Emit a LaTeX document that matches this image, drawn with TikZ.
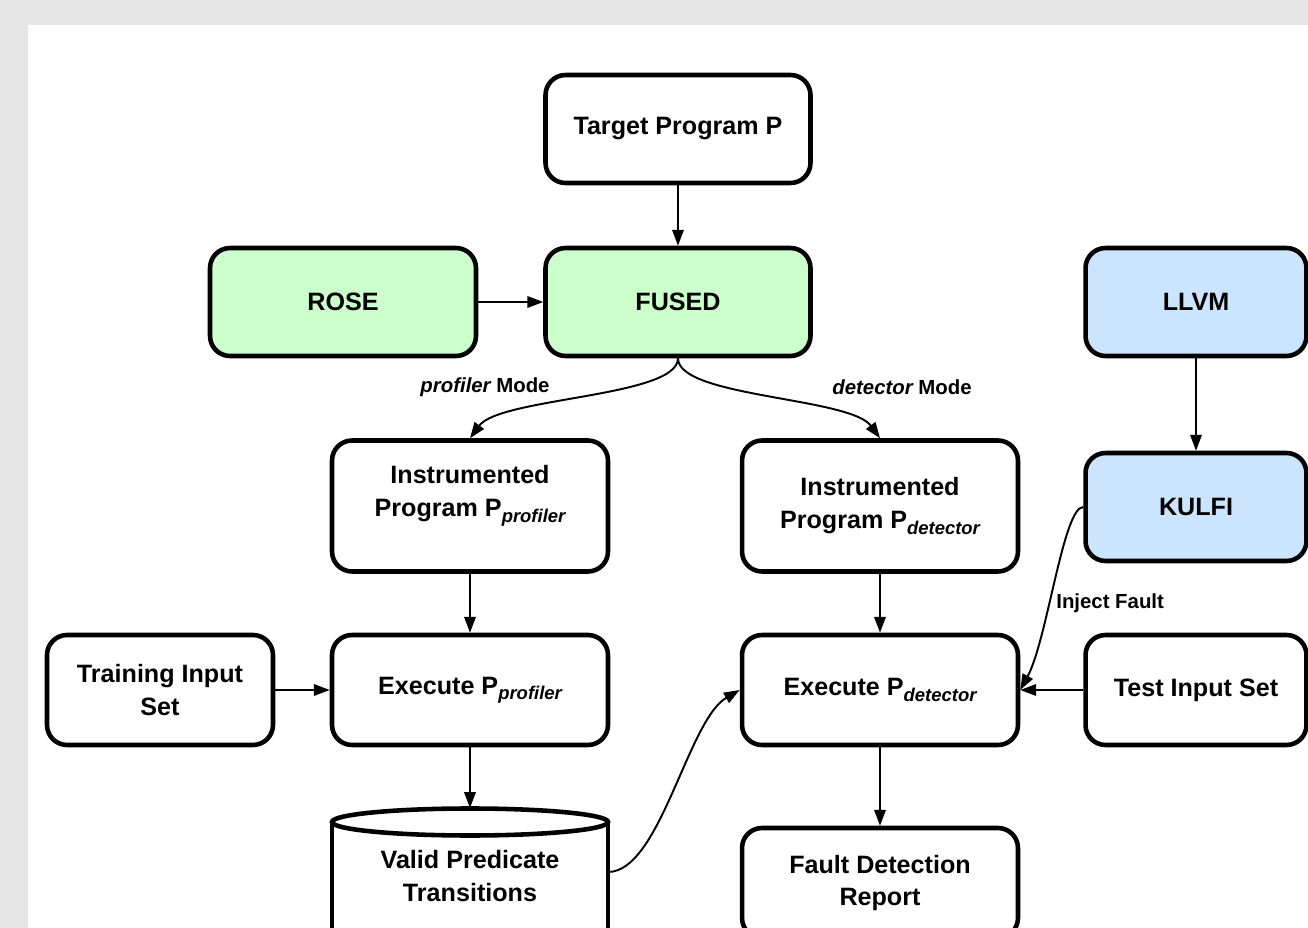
\documentclass[tikz,border=0pt]{standalone}
\usepackage{fontspec}
\setmainfont{Liberation Sans}
\usetikzlibrary{arrows.meta}
\definecolor{rosegreen}{HTML}{CCFFCC}
\definecolor{llvmblue}{HTML}{CCE5FF}
\definecolor{pagegrey}{HTML}{E6E6E6}
\newcommand{\modesub}[1]{\raisebox{-0.4ex}{\fontsize{10.5}{12}\selectfont\bfseries\itshape #1}}

\begin{document}
\begin{tikzpicture}[x=0.02cm,y=-0.02cm,
        box/.style={draw=black,line width=2.6pt,rounded corners=0.4cm,fill=white,align=center,inner sep=0pt,font=\bfseries\fontsize{14.3}{18.7}\selectfont},
        flow/.style={line width=1.1pt,-{Triangle[length=9pt,width=6.5pt]}},
        lbl/.style={font=\bfseries\fontsize{11.6}{13}\selectfont,inner sep=0pt}]
        %BACKGROUND
        \useasboundingbox (0,0) rectangle (1308,928);
        \fill[pagegrey] (0,0) rectangle (1308,928);
        \fill[white] (28,25) rectangle (1308,928);
        \clip (0,0) rectangle (1308,928);

        %TOP
        \node[box,minimum width=5.3cm,minimum height=2.16cm] (target) at (678,129) {Target Program P};
        \node[box,fill=rosegreen,minimum width=5.32cm,minimum height=2.16cm] (rose) at (343,302) {ROSE};
        \node[box,fill=rosegreen,minimum width=5.3cm,minimum height=2.16cm] (fused) at (678,302) {FUSED};
        \node[box,fill=llvmblue,minimum width=4.42cm,minimum height=2.16cm] (llvm) at (1196,302) {LLVM};

        %MIDDLE
        \node[box,minimum width=5.52cm,minimum height=2.62cm,text depth=0.59cm] (ipro) at (470,506) {Instrumented\\Program P\modesub{profiler}};
        \node[box,minimum width=5.52cm,minimum height=2.62cm] (idet) at (880,506) {Instrumented\\Program P\modesub{detector}};
        \node[box,fill=llvmblue,minimum width=4.42cm,minimum height=2.16cm] (kulfi) at (1196,507) {KULFI};

        %EXECUTION
        \node[box,minimum width=4.52cm,minimum height=2.2cm] (train) at (160,690) {Training Input\\Set};
        \node[box,minimum width=5.52cm,minimum height=2.2cm] (epro) at (470,690) {Execute P\modesub{profiler}};
        \node[box,minimum width=5.52cm,minimum height=2.2cm] (edet) at (880,690) {Execute P\modesub{detector}};
        \node[box,minimum width=4.42cm,minimum height=2.2cm] (test) at (1196,690) {Test Input Set};

        %BOTTOM
        \draw[line width=2.6pt,fill=white] (332,822) -- (332,960) -- (608,960) -- (608,822);
        \draw[line width=2.6pt,fill=white] (470,822) ellipse [x radius=2.76cm,y radius=0.27cm];
        \node[align=center,inner sep=0pt,font=\bfseries\fontsize{14.3}{18.7}\selectfont] (vpt) at (470,876) {Valid Predicate\\Transitions};
        \coordinate (vpttop) at (470,808);
        \coordinate (vptright) at (608,872);
        \node[box,minimum width=5.52cm,minimum height=2.2cm] (report) at (880,883) {Fault Detection\\Report};

        %ARROWS
        \draw[flow] (target) -- (fused);
        \draw[flow] (rose) -- (fused);
        \draw[flow] (fused.south) .. controls +(0,39) and +(30,-41) .. (ipro.north);
        \draw[flow] (fused.south) .. controls +(0,39) and +(-30,-41) .. (idet.north);
        \draw[flow] (llvm) -- (kulfi);
        \draw[flow] (ipro) -- (epro);
        \draw[flow] (idet) -- (edet);
        \draw[flow] (train) -- (epro);
        \draw[flow] (epro) -- (vpttop);
        \draw[flow] (vptright) .. controls +(52,0) and +(-52,30) .. (edet.west);
        \draw[flow] (kulfi.west) .. controls +(-20,0) and +(27,-50) .. (edet.east);
        \draw[flow] (test) -- (edet);
        \draw[flow] (edet) -- (report);

        %LABELS
        \node[lbl] (pmode) at (485,387) {{\itshape profiler} Mode};
        \node[lbl] (dmode) at (902,387) {{\itshape detector} Mode};
        \node[lbl,anchor=west] (inject) at (1056,603) {Inject Fault};
\end{tikzpicture}
\end{document}
